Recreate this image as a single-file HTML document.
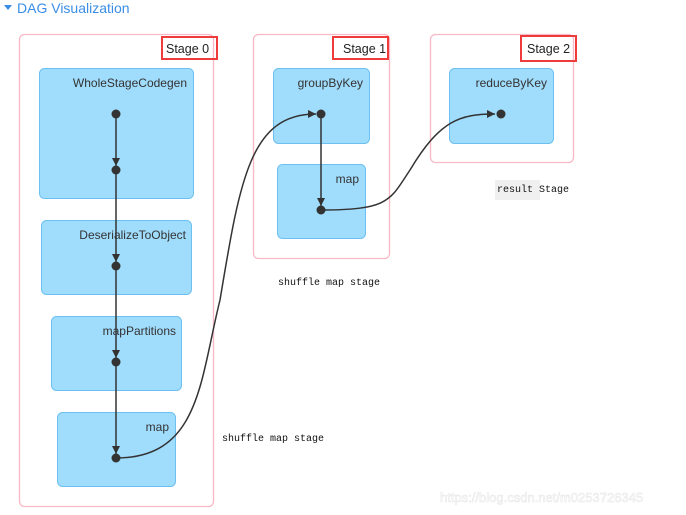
<!DOCTYPE html>
<html><head><meta charset="utf-8"><style>
html,body{margin:0;padding:0;background:#fff;width:686px;height:515px;overflow:hidden}
</style></head><body>
<svg width="686" height="515" xmlns="http://www.w3.org/2000/svg" font-family="Liberation Sans, sans-serif">
<defs><marker id="a" viewBox="0 0 10 10" refX="10" refY="5" markerWidth="8" markerHeight="8" orient="auto" markerUnits="userSpaceOnUse"><path d="M0,0L10,5L0,10z" fill="#333"/></marker></defs>
<path d="M4,5 L12,5 L8,10 z" fill="#3a8ee6"/>
<text x="17" y="13" font-size="14" fill="#3a8ee6">DAG Visualization</text>
<g fill="#fff" stroke="#f7b9c6" stroke-width="1.3">
<rect x="19.5" y="34.5" width="194" height="472" rx="5"/>
<rect x="253.5" y="34.5" width="136" height="224" rx="5"/>
<rect x="430.5" y="34.5" width="143" height="128" rx="5"/>
</g>
<g fill="none" stroke="#ee3b3b" stroke-width="2">
<rect x="162" y="37" width="55" height="22"/>
<rect x="333" y="37" width="55" height="22"/>
<rect x="521" y="36" width="55" height="25"/>
</g>
<g font-size="12.5" fill="#222">
<text x="166" y="53">Stage 0</text>
<text x="343" y="53">Stage 1</text>
<text x="527" y="53">Stage 2</text>
</g>
<g fill="#a0dcfc" stroke="#6cc1f2" stroke-width="1">
<rect x="39.5" y="68.5" width="154" height="130" rx="5"/>
<rect x="41.5" y="220.5" width="150" height="74" rx="5"/>
<rect x="51.5" y="316.5" width="130" height="74" rx="5"/>
<rect x="57.5" y="412.5" width="118" height="74" rx="5"/>
<rect x="273.5" y="68.5" width="96" height="75" rx="5"/>
<rect x="277.5" y="164.5" width="88" height="74" rx="5"/>
<rect x="449.5" y="68.5" width="104" height="75" rx="5"/>
</g>
<g font-size="12" fill="#333" text-anchor="end">
<text x="187" y="87">WholeStageCodegen</text>
<text x="186" y="239">DeserializeToObject</text>
<text x="176" y="335">mapPartitions</text>
<text x="169" y="431">map</text>
<text x="363" y="87">groupByKey</text>
<text x="359" y="183">map</text>
<text x="547" y="87">reduceByKey</text>
</g>
<g stroke="#333" stroke-width="1.5" fill="none" marker-end="url(#a)">
<line x1="116" y1="114" x2="116" y2="166"/>
<line x1="116" y1="170" x2="116" y2="262"/>
<line x1="116" y1="266" x2="116" y2="358"/>
<line x1="116" y1="362" x2="116" y2="454"/>
<line x1="321" y1="114" x2="321" y2="206"/>
<path d="M116,458 C200,458 200,380 220,300 C240,180 250,114 316,114"/>
<path d="M321,210 C390,210 390,200 410,170 C440,120 460,114 495,114"/>
</g>
<g fill="#333">
<circle cx="116" cy="114" r="4.5"/><circle cx="116" cy="170" r="4.5"/>
<circle cx="116" cy="266" r="4.5"/><circle cx="116" cy="362" r="4.5"/>
<circle cx="116" cy="458" r="4.5"/><circle cx="321" cy="114" r="4.5"/>
<circle cx="321" cy="210" r="4.5"/><circle cx="501" cy="114" r="4.5"/>
</g>
<rect x="495" y="180" width="45" height="20" fill="#f0f0f0"/>
<g font-family="Liberation Mono, monospace" font-size="10" fill="#111">
<text x="278" y="285">shuffle map stage</text>
<text x="222" y="441">shuffle map stage</text>
<text x="497" y="192">result Stage</text>
</g>
<text x="440" y="502" font-size="13" fill="#fff" stroke="#e4e4e4" stroke-width="0.5">https://blog.csdn.net/m0253726345</text>
</svg>
</body></html>
